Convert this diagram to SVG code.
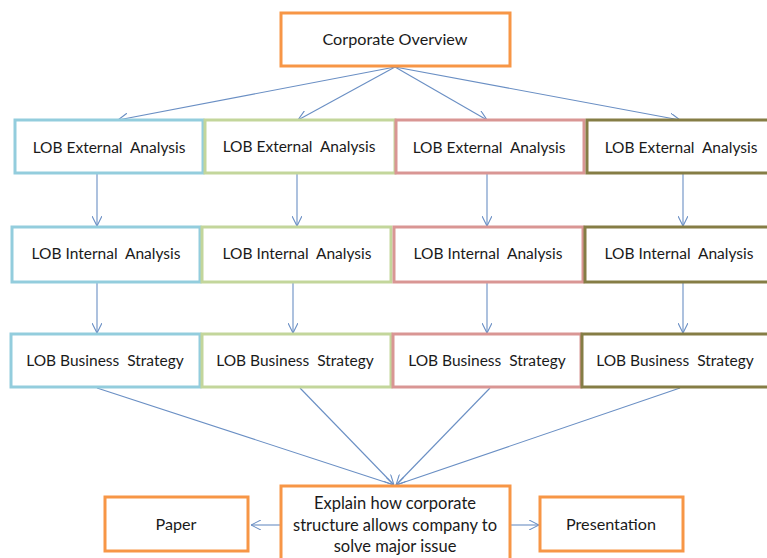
<svg xmlns="http://www.w3.org/2000/svg" width="767" height="558" viewBox="0 0 767 558">
  <style>
    .box { fill: #ffffff; stroke-width: 3; }
    .orange { stroke: #F79646; }
    .blue { stroke: #93CDDD; }
    .green { stroke: #C3D69B; }
    .red { stroke: #D99694; }
    .olive { stroke: #857D45; }
    text { font-family: Lato, "Liberation Sans", sans-serif; font-size: 15.5px; fill: #1a1a1a; text-anchor: middle; white-space: pre; }
    .big { font-size: 16.2px; }
    .note { font-size: 16.5px; }
    .conn line { stroke: #6A8FC4; stroke-width: 1.1; fill: none; marker-end: url(#arrow); }
  </style>
  <defs>
    <marker id="arrow" viewBox="0 0 10 10" refX="10" refY="5" markerWidth="10" markerHeight="10" markerUnits="userSpaceOnUse" orient="auto">
      <path d="M0,0 L10,5 L0,10" fill="none" stroke="#6A8FC4" stroke-width="1.1"/>
    </marker>
  </defs>
  <rect width="767" height="558" fill="#ffffff"/>

  <!-- connectors -->
  <g id="connectors" class="conn">
    <line x1="395" y1="67" x2="118" y2="120"/>
    <line x1="395" y1="67" x2="298" y2="120"/>
    <line x1="395" y1="67" x2="487" y2="120"/>
    <line x1="395" y1="67" x2="680" y2="120"/>
    <line x1="97" y1="174" x2="97" y2="226"/>
    <line x1="297" y1="174" x2="297" y2="226"/>
    <line x1="487" y1="174" x2="487" y2="226"/>
    <line x1="683" y1="174" x2="683" y2="226"/>
    <line x1="97" y1="283" x2="97" y2="333"/>
    <line x1="293" y1="283" x2="293" y2="333"/>
    <line x1="487" y1="283" x2="487" y2="333"/>
    <line x1="683" y1="283" x2="683" y2="333"/>
    <line x1="97" y1="388" x2="394" y2="485"/>
    <line x1="300" y1="388" x2="394" y2="485"/>
    <line x1="490" y1="388" x2="396" y2="485"/>
    <line x1="680" y1="388" x2="396" y2="485"/>
    <line x1="280" y1="525" x2="251" y2="525"/>
    <line x1="510" y1="525" x2="539" y2="525"/>
  </g>

  <g id="corporate-overview">
    <rect class="box orange" x="281" y="13" width="229" height="53"/>
    <text class="big" x="395" y="45">Corporate Overview</text>
  </g>

  <!-- row 1: external analysis -->
  <g id="ext-1">
    <rect class="box blue" x="15" y="120" width="188" height="53"/>
    <text x="109" y="153">LOB External  Analysis</text>
  </g>
  <g id="ext-2">
    <rect class="box green" x="205" y="120" width="190" height="53"/>
    <text x="299" y="152">LOB External  Analysis</text>
  </g>
  <g id="ext-3">
    <rect class="box red" x="396" y="120" width="188" height="53"/>
    <text x="489" y="153">LOB External  Analysis</text>
  </g>
  <g id="ext-4">
    <rect class="box olive" x="587" y="120" width="190" height="53"/>
    <text x="681" y="153">LOB External  Analysis</text>
  </g>

  <!-- row 2: internal analysis -->
  <g id="int-1">
    <rect class="box blue" x="12" y="227" width="188" height="55"/>
    <text x="106" y="259">LOB Internal  Analysis</text>
  </g>
  <g id="int-2">
    <rect class="box green" x="202" y="227" width="189" height="55"/>
    <text x="297" y="259">LOB Internal  Analysis</text>
  </g>
  <g id="int-3">
    <rect class="box red" x="394" y="227" width="189" height="55"/>
    <text x="488" y="259">LOB Internal  Analysis</text>
  </g>
  <g id="int-4">
    <rect class="box olive" x="585" y="227" width="190" height="55"/>
    <text x="679" y="259">LOB Internal  Analysis</text>
  </g>

  <!-- row 3: business strategy -->
  <g id="strat-1">
    <rect class="box blue" x="11" y="334" width="189" height="53"/>
    <text x="105" y="366">LOB Business  Strategy</text>
  </g>
  <g id="strat-2">
    <rect class="box green" x="202" y="334" width="189" height="53"/>
    <text x="295" y="366">LOB Business  Strategy</text>
  </g>
  <g id="strat-3">
    <rect class="box red" x="393" y="334" width="188" height="53"/>
    <text x="487" y="366">LOB Business  Strategy</text>
  </g>
  <g id="strat-4">
    <rect class="box olive" x="582" y="334" width="190" height="53"/>
    <text x="675" y="366">LOB Business  Strategy</text>
  </g>

  <!-- outputs -->
  <g id="explain">
    <rect class="box orange" x="281" y="486" width="229" height="76"/>
    <text class="note" x="395" y="509">Explain how corporate</text>
    <text class="note" x="395" y="531">structure allows company to</text>
    <text class="note" x="395" y="552">solve major issue</text>
  </g>
  <g id="paper">
    <rect class="box orange" x="105" y="497" width="143" height="54"/>
    <text class="big" x="176" y="530">Paper</text>
  </g>
  <g id="presentation">
    <rect class="box orange" x="540" y="497" width="143" height="54"/>
    <text class="big" x="611" y="530">Presentation</text>
  </g>
</svg>
